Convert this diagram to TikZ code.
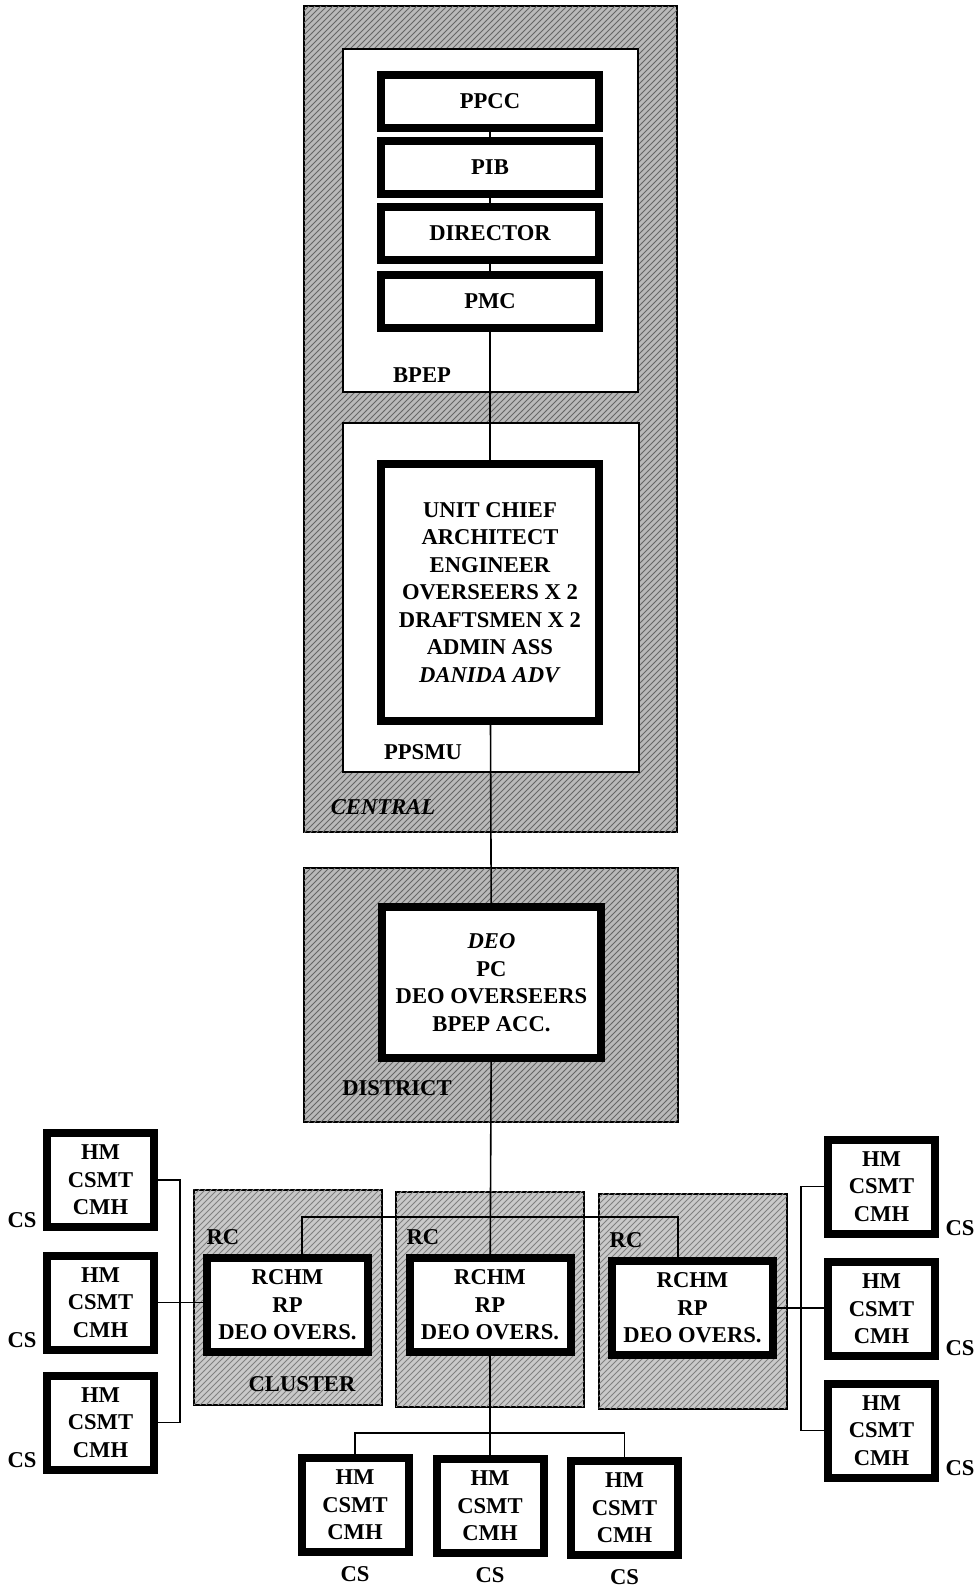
\documentclass[tikz,border=0pt]{standalone}
\usepackage{fontspec}
\setmainfont{Liberation Serif}
\usetikzlibrary{patterns, positioning}
\tikzset{
  level/.style={rectangle, draw=black, line width=1pt, fill=gray!55, postaction={pattern=north east lines, pattern color=black!60}},
  cluster/.style={rectangle, draw=black, line width=1pt, fill=gray!42, minimum width=94pt, minimum height=107.5pt, postaction={pattern=north east lines, pattern color=black!50}},
  office/.style={rectangle, draw=black, line width=1pt, fill=white},
  post/.style={rectangle, draw=black, line width=4pt, fill=white, align=center, inner sep=0pt, font=\bfseries\fontsize{11.3}{13.75}\selectfont},
  topbox/.style={post, minimum width=109pt, minimum height=26.5pt},
  rchm/.style={post, minimum width=80.5pt, minimum height=47pt},
  school/.style={post, minimum width=53.5pt, minimum height=47pt},
  tag/.style={font=\bfseries\fontsize{11.3}{13.75}\selectfont, inner sep=0pt},
  link/.style={line width=0.8pt}
}
\begin{document}
\begin{tikzpicture}[x=0.5pt, y=-0.5pt]
  \useasboundingbox (0,0) rectangle (979,1587);

  % levels
  \node (central) [level, minimum width=186.5pt, minimum height=413pt] at (490.5,419) {};
  \node (bpep) [office, minimum width=147.5pt, minimum height=171.5pt] at (490.5,220.5) {};
  \node (ppsmu) [office, minimum width=148pt, minimum height=174.5pt] at (491,597.5) {};
  \node (district) [level, minimum width=187pt, minimum height=127pt] at (491,995) {};
  \node (cl1) [cluster] at (287.5,1297) {};
  \node (cl2) [cluster] at (490,1299) {};
  \node (cl3) [cluster] at (692.5,1301) {};

  \node (bpeptag) [tag] at (422,375) {BPEP};
  \node (ppsmutag) [tag] at (423,752) {PPSMU};
  \node (centraltag) [tag, font=\bfseries\itshape\fontsize{11.3}{13.75}\selectfont] at (383,807) {CENTRAL};
  \node (districttag) [tag] at (397,1088) {DISTRICT};
  \node (clustertag) [tag] at (302,1384) {CLUSTER};
  \node (rc1) [tag] at (223,1237) {RC};
  \node (rc2) [tag] at (423,1237) {RC};
  \node (rc3) [tag] at (626,1240) {RC};

  % posts
  \node (ppcc) [topbox] at (490,101) {PPCC};
  \node (pib) [topbox] at (490,167) {PIB};
  \node (director) [topbox] at (490,233.5) {DIRECTOR};
  \node (pmc) [topbox] at (490,301.5) {PMC};
  \node (unit) [post, minimum width=109pt, minimum height=128.5pt] at (490,592.5)
    {UNIT CHIEF\\ARCHITECT\\ENGINEER\\OVERSEERS X 2\\DRAFTSMEN X 2\\ADMIN ASS\\\textit{DANIDA ADV}};
  \node (deo) [post, minimum width=109.5pt, minimum height=75.5pt] at (491.5,982.5)
    {\textit{DEO}\\PC\\DEO OVERSEERS\\BPEP ACC.};
  \node (rchm1) [rchm] at (287.5,1305) {RCHM\\RP\\DEO OVERS.};
  \node (rchm2) [rchm] at (490,1305) {RCHM\\RP\\DEO OVERS.};
  \node (rchm3) [rchm] at (692.5,1308) {RCHM\\RP\\DEO OVERS.};

  % schools
  \node (csl1) [school] at (100.5,1180) {HM\\CSMT\\CMH};
  \node (csl2) [school] at (100.5,1302.5) {HM\\CSMT\\CMH};
  \node (csl3) [school] at (100.5,1422.5) {HM\\CSMT\\CMH};
  \node (csr1) [school] at (881.5,1186.5) {HM\\CSMT\\CMH};
  \node (csr2) [school] at (881.5,1309) {HM\\CSMT\\CMH};
  \node (csr3) [school] at (881.5,1430.5) {HM\\CSMT\\CMH};
  \node (csb1) [school] at (355,1505) {HM\\CSMT\\CMH};
  \node (csb2) [school] at (490,1506) {HM\\CSMT\\CMH};
  \node (csb3) [school] at (624.5,1508) {HM\\CSMT\\CMH};

  \node (csl1tag) [tag] at (22,1220) {CS};
  \node (csl2tag) [tag] at (22,1340) {CS};
  \node (csl3tag) [tag] at (22,1460) {CS};
  \node (csr1tag) [tag] at (960,1228) {CS};
  \node (csr2tag) [tag] at (960,1348) {CS};
  \node (csr3tag) [tag] at (960,1468) {CS};
  \node (csb1tag) [tag, below=5pt of csb1] {CS};
  \node (csb2tag) [tag, below=5pt of csb2] {CS};
  \node (csb3tag) [tag, below=5pt of csb3] {CS};

  \coordinate (rjoinL) at (302,1217);
  \coordinate (rjoinR) at (678,1217);
  \coordinate (bjoin) at (490,1433);
  \coordinate (lbar) at (180,1305);
  \coordinate (rbar) at (801,1305);

  \draw [link] (ppcc) -- (pib);
  \draw [link] (pib) -- (director);
  \draw [link] (director) -- (pmc);
  \draw [link] (pmc) -- (unit);
  \draw [link] (unit) -- (deo);
  \draw [link] (deo) -- (rchm2);
  \draw [link] (rjoinL |- rchm1.north) -- (rjoinL) -- (rjoinR) -- (rjoinR |- rchm3.north);
  \draw [link] (rchm2) -- (csb2);
  \draw [link] (csb1.north) |- (bjoin) -| (csb3.north);
  \draw [link] (csl1.east) -| (lbar) |- (csl3.east);
  \draw [link] (csl2.east) -- (csl2.east -| rchm1.west);
  \draw [link] (csr1.west) -| (rbar) |- (csr3.west);
  \draw [link] (rchm3.east) -- (rchm3.east -| csr2.west);

\end{tikzpicture}
\end{document}
